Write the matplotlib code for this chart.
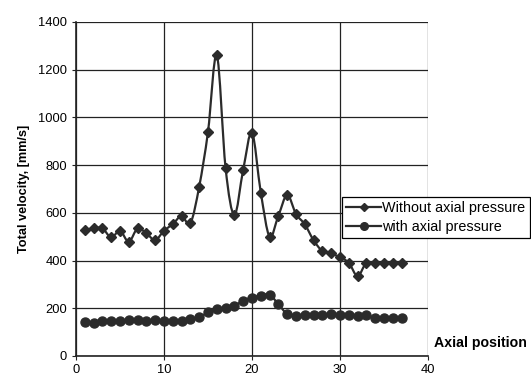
import matplotlib
matplotlib.use("Agg")
import matplotlib.pyplot as plt
from matplotlib.path import Path
from matplotlib.patches import PathPatch

# Axial positions (1..37)
position = list(range(1, 38))

without_pressure = [528, 535, 535, 497, 525, 479, 535, 514, 486, 525,
                    553, 587, 556, 710, 940, 1262, 787, 591, 781, 936,
                    685, 500, 588, 675, 595, 552, 485, 440, 430, 413,
                    391, 335, 391, 388, 388, 388, 388]

with_pressure = [144, 140, 145, 145, 145, 151, 151, 145, 151, 145,
                 145, 145, 155, 162, 183, 197, 203, 211, 232, 245,
                 253, 257, 217, 176, 169, 172, 172, 172, 176, 170,
                 170, 168, 170, 160, 160, 160, 160]

y_ticks = [0, 200, 400, 600, 800, 1000, 1200, 1400]
x_ticks = [0, 10, 20, 30, 40]


def smooth_path(xs, ys, t=1 / 6):
    # excel-like smoothed line: bezier segments through the points
    verts = [(xs[0], ys[0])]
    codes = [Path.MOVETO]
    n = len(xs)
    for i in range(n - 1):
        x0, y0 = (xs[i - 1], ys[i - 1]) if i > 0 else (xs[i], ys[i])
        x1, y1 = xs[i], ys[i]
        x2, y2 = xs[i + 1], ys[i + 1]
        x3, y3 = (xs[i + 2], ys[i + 2]) if i + 2 < n else (x2, y2)
        verts += [(x1 + (x2 - x0) * t, y1 + (y2 - y0) * t),
                  (x2 - (x3 - x1) * t, y2 - (y3 - y1) * t),
                  (x2, y2)]
        codes += [Path.CURVE4] * 3
    return Path(verts, codes)


plt.rcParams["font.family"] = ["Liberation Sans", "DejaVu Sans"]

fig = plt.figure(figsize=(5.31, 3.8), dpi=100)
ax = fig.add_axes([76 / 531, 24 / 380, 352 / 531, 334 / 380])

line_col = "#2b2b2b"
for ys in [without_pressure, with_pressure]:
    ax.add_patch(PathPatch(smooth_path(position, ys), fill=False,
                           edgecolor=line_col, lw=1.6, zorder=2))

# markers only, the line comes from the smoothed path; proxies carry the legend look
ax.plot(position, without_pressure, "D", color=line_col, ms=5.5, zorder=3)
ax.plot(position, with_pressure, "o", color=line_col, ms=6.5, zorder=3)
h1, = ax.plot([], [], "-D", color=line_col, lw=1.6, ms=4.5,
              label="Without axial pressure")
h2, = ax.plot([], [], "-o", color=line_col, lw=1.6, ms=5.5,
              label="with axial pressure")

ax.set_xlim(0, 40)
ax.set_ylim(0, 1400)
ax.set_xticks(x_ticks)
ax.set_yticks(y_ticks)
ax.grid(True, color="#222222", lw=0.9)
for s in ["top", "right"]:
    ax.spines[s].set_visible(False)
for s in ["left", "bottom"]:
    ax.spines[s].set_color("#222222")
    ax.spines[s].set_linewidth(1.2)
ax.tick_params(axis="both", direction="out", length=3, labelsize=9.3, color="#222222")
ax.tick_params(axis="x", pad=2.5)

ax.set_ylabel("Total velocity, [mm/s]", fontsize=9.2, fontweight="bold", labelpad=6)
fig.text(434 / 531, 1 - 343 / 380, "Axial position", fontsize=10.2,
         fontweight="bold", va="center", ha="left")

leg = ax.legend(handles=[h1, h2], loc="upper left",
                bbox_to_anchor=(342 / 531, 1 - 197 / 380),
                bbox_transform=fig.transFigure, fontsize=10.4, frameon=True,
                fancybox=False, edgecolor="black", framealpha=1,
                handlelength=2.4, handletextpad=0.1, borderpad=0.3,
                labelspacing=0.32, borderaxespad=0)
leg.get_frame().set_linewidth(0.9)

fig.savefig("out.png", dpi=100)
